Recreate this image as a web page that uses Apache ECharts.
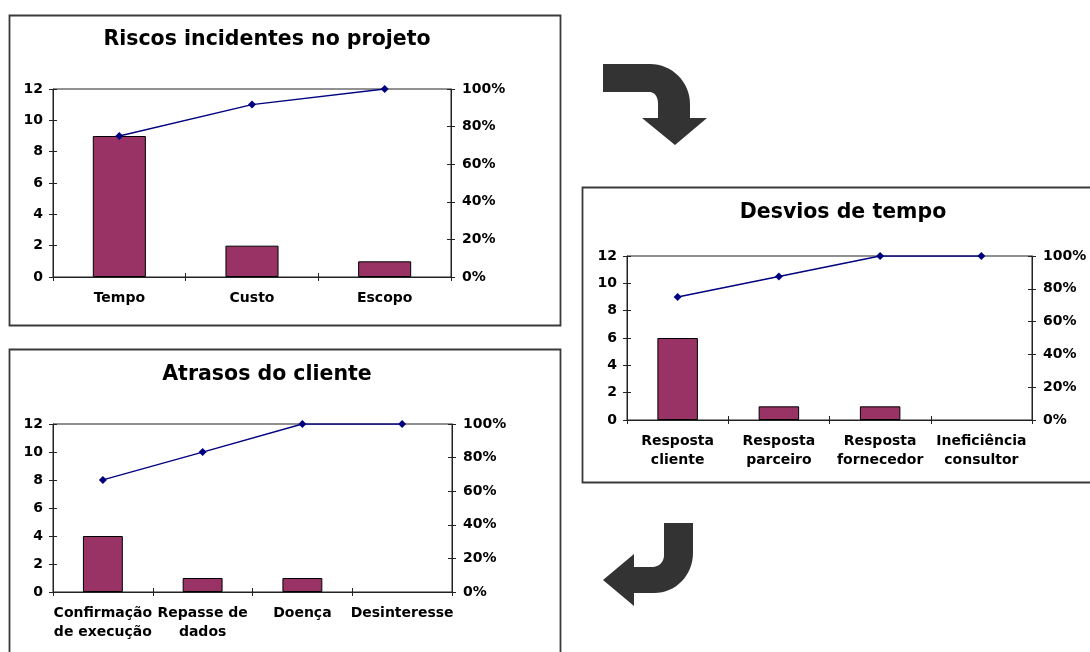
<!DOCTYPE html>
<html>
<head>
<meta charset="utf-8">
<style>
  html, body { margin: 0; padding: 0; background: #fff; }
  #chart { width: 1090px; height: 652px; }
</style>
<script src="https://cdn.jsdelivr.net/npm/echarts@6/dist/echarts.min.js"></script>
</head>
<body>
<div id="chart"></div>
<script>
// Riscos incidentes no projeto
const riscosCategorias = ['Tempo', 'Custo', 'Escopo'];
const riscosOcorrencias = [9, 2, 1];
const riscosAcumulado = [75, 91.7, 100];

// Atrasos do cliente
const atrasosCategorias = ['Confirmação\nde execução', 'Repasse de\ndados', 'Doença', 'Desinteresse'];
const atrasosOcorrencias = [4, 1, 1, 0];
const atrasosAcumulado = [66.7, 83.3, 100, 100];

// Desvios de tempo
const desviosCategorias = ['Resposta\ncliente', 'Resposta\nparceiro', 'Resposta\nfornecedor', 'Ineficiência\nconsultor'];
const desviosOcorrencias = [6, 1, 1, 0];
const desviosAcumulado = [75, 87.5, 100, 100];

// Axis scales
const escalaContagem = { min: 0, max: 12, interval: 2 };
const escalaPercentual = { min: 0, max: 100, interval: 20 };

const FONT = 'DejaVu Sans';
const AXIS_COLOR = '#222';
const BAR_COLOR = '#993366';
const LINE_COLOR = '#000080';

const paineis = [
  { titulo: 'Riscos incidentes no projeto', cats: riscosCategorias, vals: riscosOcorrencias, acum: riscosAcumulado,
    grid: { left: 53, top: 89, width: 398, height: 188 }, tituloX: 267, tituloY: 29 },
  { titulo: 'Atrasos do cliente', cats: atrasosCategorias, vals: atrasosOcorrencias, acum: atrasosAcumulado,
    grid: { left: 53, top: 424, width: 399, height: 168 }, tituloX: 267, tituloY: 364 },
  { titulo: 'Desvios de tempo', cats: desviosCategorias, vals: desviosOcorrencias, acum: desviosAcumulado,
    grid: { left: 627, top: 256, width: 405, height: 164 }, tituloX: 843, tituloY: 202 }
];

const labelStyle = { color: '#000', fontFamily: FONT, fontSize: 14, fontWeight: 'bold' };

const option = {
  backgroundColor: '#fff',
  animation: false,
  title: [], grid: [], xAxis: [], yAxis: [], series: [],
  graphic: []
};

paineis.forEach((p, gi) => {
  option.title.push({
    text: p.titulo, left: p.tituloX, top: p.tituloY, textAlign: 'center', padding: 0,
    textStyle: { fontFamily: FONT, fontSize: 20.5, fontWeight: 'bold', color: '#000' }
  });
  option.grid.push(Object.assign({ show: true, borderColor: AXIS_COLOR, borderWidth: 1, backgroundColor: 'transparent' }, p.grid));

  const xi = option.xAxis.length;
  // category axis with ticks below the line
  option.xAxis.push({
    type: 'category', gridIndex: gi, data: p.cats, position: 'bottom',
    axisLine: { show: true, lineStyle: { color: AXIS_COLOR, width: 1 } },
    axisTick: { show: true, inside: false, length: 4, lineStyle: { color: AXIS_COLOR } },
    axisLabel: Object.assign({ margin: 12, lineHeight: 19, interval: 0 }, labelStyle),
    splitLine: { show: false }
  });
  // same axis again, ticks above the line (crossing tick marks)
  option.xAxis.push({
    type: 'category', gridIndex: gi, data: p.cats, position: 'bottom',
    axisLine: { show: false },
    axisTick: { show: true, inside: true, length: 4, lineStyle: { color: AXIS_COLOR } },
    axisLabel: { show: false }, splitLine: { show: false }
  });

  const yi = option.yAxis.length;
  option.yAxis.push(Object.assign({
    type: 'value', gridIndex: gi, position: 'left', offset: 0,
    axisLine: { show: true, lineStyle: { color: AXIS_COLOR } },
    axisTick: { show: true, inside: false, length: 4, lineStyle: { color: AXIS_COLOR } },
    axisLabel: Object.assign({ margin: 10 }, labelStyle),
    splitLine: { show: false }
  }, escalaContagem));
  option.yAxis.push(Object.assign({
    type: 'value', gridIndex: gi, position: 'left', offset: 0,
    axisLine: { show: false },
    axisTick: { show: true, inside: true, length: 4, lineStyle: { color: AXIS_COLOR } },
    axisLabel: { show: false }, splitLine: { show: false }
  }, escalaContagem));
  option.yAxis.push(Object.assign({
    type: 'value', gridIndex: gi, position: 'right', offset: 0,
    axisLine: { show: true, lineStyle: { color: AXIS_COLOR } },
    axisTick: { show: true, inside: false, length: 4, lineStyle: { color: AXIS_COLOR } },
    axisLabel: Object.assign({ margin: 11, formatter: '{value}%', align: 'left' }, labelStyle),
    splitLine: { show: false }
  }, escalaPercentual));
  option.yAxis.push(Object.assign({
    type: 'value', gridIndex: gi, position: 'right', offset: 0,
    axisLine: { show: false },
    axisTick: { show: true, inside: true, length: 4, lineStyle: { color: AXIS_COLOR } },
    axisLabel: { show: false }, splitLine: { show: false }
  }, escalaPercentual));

  option.series.push({
    type: 'bar', xAxisIndex: xi, yAxisIndex: yi, barWidth: '40%',
    // an empty category gets no outline
    data: p.vals.map(v => (v === 0 ? { value: v, itemStyle: { borderWidth: 0 } } : v)),
    itemStyle: { color: BAR_COLOR, borderColor: '#000', borderWidth: 1 }
  });
  option.series.push({
    type: 'line', xAxisIndex: xi, yAxisIndex: yi + 2, data: p.acum,
    symbol: 'diamond', symbolSize: 8,
    lineStyle: { color: LINE_COLOR, width: 1.3 },
    itemStyle: { color: LINE_COLOR }
  });
});

// chart frames
const molduras = [
  { x: 9.5, y: 15.5, w: 551, h: 310 },
  { x: 9.5, y: 349.5, w: 551, h: 320 },
  { x: 582.5, y: 187.5, w: 520, h: 295 }
];
molduras.forEach(m => option.graphic.push({
  type: 'rect', shape: { x: m.x, y: m.y, width: m.w, height: m.h }, z: -1,
  style: { fill: 'transparent', stroke: '#3a3a3a', lineWidth: 1.8 }
}));

// outline builder for the flow arrows: straight segments and cubic curves
function contorno(passos) {
  const pts = [];
  let atual = null;
  passos.forEach(s => {
    if (s.length === 2) {
      pts.push(s); atual = s;
    } else {
      const [c1x, c1y, c2x, c2y, ex, ey] = s;
      const [sx, sy] = atual;
      for (let i = 1; i <= 16; i++) {
        const t = i / 16, u = 1 - t;
        pts.push([
          u * u * u * sx + 3 * u * u * t * c1x + 3 * u * t * t * c2x + t * t * t * ex,
          u * u * u * sy + 3 * u * u * t * c1y + 3 * u * t * t * c2y + t * t * t * ey
        ]);
      }
      atual = [ex, ey];
    }
  });
  return pts;
}

// arrow from the first chart to the second
option.graphic.push({
  type: 'polygon', z: 10,
  shape: { points: contorno([
    [603, 64], [650, 64], [672, 64, 690, 82, 690, 104], [690, 118], [707, 118], [675, 145],
    [642, 118], [658, 118], [658, 104], [658, 97, 655, 92, 649, 92], [603, 92]
  ]) },
  style: { fill: '#333' }
});
// arrow from the second chart to the third
option.graphic.push({
  type: 'polygon', z: 10,
  shape: { points: contorno([
    [664, 523], [693, 523], [693, 553], [693, 575, 676, 593, 654, 593], [634, 593], [634, 606],
    [603, 580], [634, 554], [634, 567], [652, 567], [659, 567, 664, 562, 664, 555]
  ]) },
  style: { fill: '#333' }
});

const chart = echarts.init(document.getElementById('chart'), null, { renderer: 'canvas' });
chart.setOption(option);
</script>
</body>
</html>
